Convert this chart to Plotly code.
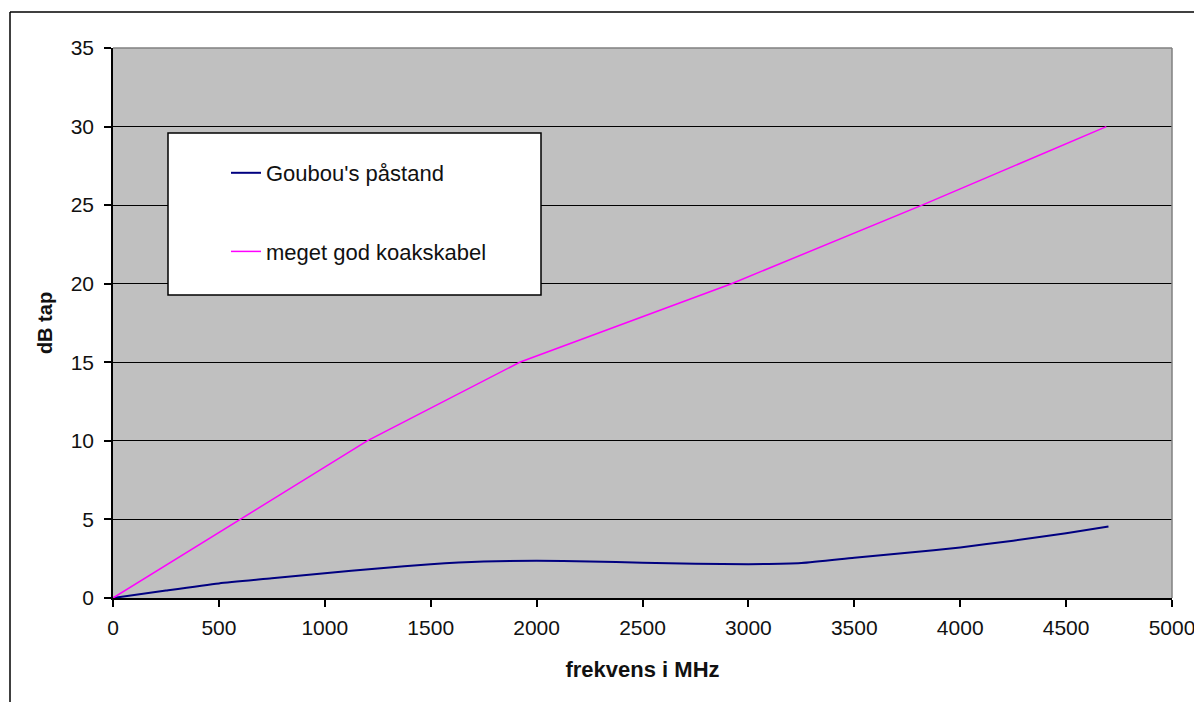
import plotly.graph_objects as go

# Data
freq_goubou = [0, 250, 500, 750, 1000, 1250, 1500, 1750, 2000, 2250, 2500,
               2750, 3000, 3250, 3500, 3750, 4000, 4250, 4500, 4700]
db_goubou = [0, 0.48, 0.93, 1.25, 1.57, 1.88, 2.15, 2.32, 2.37, 2.33, 2.25,
             2.18, 2.15, 2.22, 2.56, 2.88, 3.22, 3.65, 4.12, 4.55]

freq_koaks = [0, 600, 1200, 1920, 2920, 3820, 4690]
db_koaks = [0, 5, 10, 15, 20, 25, 30]

name_goubou = "Goubou's påstand"
name_koaks = "meget god koakskabel"
x_title = "frekvens i MHz"
y_title = "dB tap"
x_ticks = [0, 500, 1000, 1500, 2000, 2500, 3000, 3500, 4000, 4500, 5000]
y_ticks = [0, 5, 10, 15, 20, 25, 30, 35]

FONT = "Liberation Sans, Arial, sans-serif"
W, H = 1194, 702
L, R, T, B = 113, 22, 48, 104
PW, PH = W - L - R, H - T - B


def px(xp):
    return (xp - L) / PW


def py(yp):
    return (H - B - yp) / PH


fig = go.Figure()
fig.add_trace(go.Scatter(x=freq_goubou, y=db_goubou, mode="lines", name=name_goubou,
                         line=dict(color="#000080", width=2, shape="spline", smoothing=0.6),
                         legendgroup="a"))
fig.add_trace(go.Scatter(x=freq_koaks, y=db_koaks, mode="lines", name=name_koaks,
                         line=dict(color="#FF00FF", width=1.5), legendgroup="b"))

shapes = [
    # legend box
    dict(type="rect", xref="paper", yref="paper", x0=px(168), x1=px(541), y0=py(295), y1=py(133),
         fillcolor="white", line=dict(color="black", width=1.5), layer="above"),
    # plot area top and right border (gray)
    dict(type="line", xref="paper", yref="paper", x0=0, x1=1, y0=1, y1=1,
         line=dict(color="#808080", width=1.5), layer="above"),
    dict(type="line", xref="paper", yref="paper", x0=1, x1=1, y0=0, y1=1,
         line=dict(color="#808080", width=1.5), layer="above"),
    # outer chart border (left & top)
    dict(type="line", xref="paper", yref="paper", x0=px(10), x1=px(10), y0=py(710), y1=py(12),
         line=dict(color="black", width=1.5)),
    dict(type="line", xref="paper", yref="paper", x0=px(10), x1=px(1200), y0=py(12), y1=py(12),
         line=dict(color="black", width=1.5)),
]

fig.update_layout(
    width=W, height=H,
    autosize=False,
    margin=dict(l=L, r=R, t=T, b=B, autoexpand=False),
    paper_bgcolor="white",
    plot_bgcolor="#C0C0C0",
    font=dict(family=FONT, color="#111111", size=21),
    showlegend=True,
    legend=dict(
        x=px(226), y=py(152), xanchor="left", yanchor="top",
        bgcolor="rgba(0,0,0,0)", borderwidth=0,
        font=dict(family=FONT, size=22, color="#111111"),
        tracegroupgap=47,
    ),
    shapes=shapes,
    xaxis=dict(
        range=[0, 5000], tickvals=x_ticks, ticktext=[str(v) for v in x_ticks],
        showgrid=False, zeroline=False, automargin=False,
        showline=True, linecolor="black", linewidth=1.5,
        ticks="outside", ticklen=7, tickwidth=1.5, tickcolor="black",
        ticklabelstandoff=3, ticklabeloverflow="allow",
        tickfont=dict(family=FONT, size=21, color="#111111"),
        title=dict(text=x_title, font=dict(family=FONT, size=22, color="#111111", weight="bold"),
                   standoff=24),
        fixedrange=True,
    ),
    yaxis=dict(
        range=[0, 35], tickvals=y_ticks, ticktext=[str(v) for v in y_ticks],
        showgrid=True, gridcolor="black", gridwidth=1.2, zeroline=False, automargin=False,
        showline=True, linecolor="black", linewidth=1.5,
        ticks="outside", ticklen=7, tickwidth=1.5, tickcolor="black",
        ticklabelstandoff=6, ticklabeloverflow="allow",
        tickfont=dict(family=FONT, size=21, color="#111111"),
        title=dict(text=y_title, font=dict(family=FONT, size=20, color="#111111", weight="bold"),
                   standoff=13),
        fixedrange=True,
    ),
)

post = (
    "document.body.style.margin='0';"
    "document.body.style.padding='0';"
    "document.body.style.overflow='hidden';"
    "var gd=document.getElementById('{plot_id}');"
    "Plotly.relayout(gd,{width:1194,height:702});"
)

fig.write_html("out.html", config={"responsive": False, "displayModeBar": False},
               post_script=post)
